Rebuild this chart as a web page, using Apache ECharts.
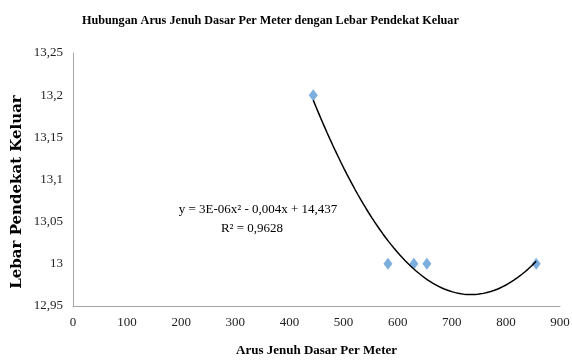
<!DOCTYPE html>
<html>
<head>
<meta charset="utf-8">
<script src="https://cdn.jsdelivr.net/npm/echarts@6/dist/echarts.min.js"></script>
<style>html,body{margin:0;padding:0;background:#fff}#c{width:572px;height:360px}</style>
</head>
<body>
<div id="c"></div>
<script>
const titleText = 'Hubungan Arus Jenuh Dasar Per Meter dengan Lebar Pendekat Keluar';
const xName = 'Arus Jenuh Dasar Per Meter';
const yName = 'Lebar Pendekat Keluar';
const xValues = [444, 582, 630, 654, 856];
const yValues = [13.2, 13.0, 13.0, 13.0, 13.0];
const equationLine1 = 'y = 3E-06x\u00B2 - 0,004x + 14,437';
const equationLine2 = 'R\u00B2 = 0,9628';

// least-squares quadratic fit of the data (polynomial trendline, order 2)
function quadFit(xs, ys) {
  const n = xs.length;
  let s = [0,0,0,0,0], t = [0,0,0];
  for (let i = 0; i < n; i++) {
    let p = 1;
    for (let k = 0; k <= 4; k++) { s[k] += p; if (k <= 2) t[k] += p * ys[i]; p *= xs[i]; }
  }
  const M = [[s[0],s[1],s[2],t[0]],[s[1],s[2],s[3],t[1]],[s[2],s[3],s[4],t[2]]];
  for (let i = 0; i < 3; i++) {
    for (let j = i + 1; j < 3; j++) {
      const f = M[j][i] / M[i][i];
      for (let k = i; k < 4; k++) M[j][k] -= f * M[i][k];
    }
  }
  const c = [0,0,0];
  for (let i = 2; i >= 0; i--) {
    let v = M[i][3];
    for (let k = i + 1; k < 3; k++) v -= M[i][k] * c[k];
    c[i] = v / M[i][i];
  }
  return c;
}
const coef = quadFit(xValues, yValues);
const xMin = Math.min(...xValues), xMax = Math.max(...xValues);
const trend = [];
for (let i = 0; i <= 80; i++) {
  const x = xMin + (xMax - xMin) * i / 80;
  trend.push([x, coef[0] + coef[1] * x + coef[2] * x * x]);
}
const points = xValues.map((x, i) => [x, yValues[i]]);

const serif = '"Liberation Serif", "Times New Roman", serif';
const chart = echarts.init(document.getElementById('c'), null, {renderer: 'canvas'});
chart.setOption({
  animation: false,
  backgroundColor: '#ffffff',
  title: {
    text: titleText,
    left: 77, top: 10,
    textStyle: {fontFamily: serif, fontWeight: 'bold', fontSize: 12.2, color: '#000'}
  },
  grid: {left: 73, right: 12, top: 53, bottom: 54, containLabel: false, outerBoundsMode: 'none'},
  xAxis: {
    type: 'value', min: 0, max: 900, interval: 100,
    name: xName, nameLocation: 'middle', nameGap: 38,
    nameTextStyle: {fontFamily: serif, fontWeight: 'bold', fontSize: 13, color: '#000'},
    axisLine: {show: true, lineStyle: {color: '#a6a6a6', width: 1}},
    axisTick: {show: false},
    splitLine: {show: false},
    axisLabel: {fontFamily: serif, fontSize: 13, color: '#222', margin: 10}
  },
  yAxis: {
    type: 'value', min: 12.95, max: 13.25, interval: 0.05,
    axisLine: {show: true, lineStyle: {color: '#a6a6a6', width: 1}},
    axisTick: {show: false},
    splitLine: {show: false},
    axisLabel: {
      fontFamily: serif, fontSize: 13, color: '#222', margin: 10,
      formatter: v => String(parseFloat(v.toFixed(2))).replace('.', ',')
    }
  },
  graphic: [
    {type: 'text', x: 17, y: 192, rotation: Math.PI / 2,
     style: {text: yName, font: 'bold 15px "DejaVu Serif", serif', fill: '#000', align: 'center', verticalAlign: 'middle'}},
    {type: 'text', x: 258, y: 210,
     style: {text: equationLine1, font: '13px "Liberation Serif", serif', fill: '#000', align: 'center', verticalAlign: 'middle'}},
    {type: 'text', x: 252, y: 229,
     style: {text: equationLine2, font: '13px "Liberation Serif", serif', fill: '#000', align: 'center', verticalAlign: 'middle'}}
  ],
  series: [
    {type: 'scatter', data: points, symbol: 'diamond', symbolSize: [9, 12],
     itemStyle: {color: '#5b9bd5'}, z: 2},
    {type: 'line', data: trend, showSymbol: false, smooth: false,
     lineStyle: {color: '#000', width: 1.5}, z: 3}
  ]
});
</script>
</body>
</html>
